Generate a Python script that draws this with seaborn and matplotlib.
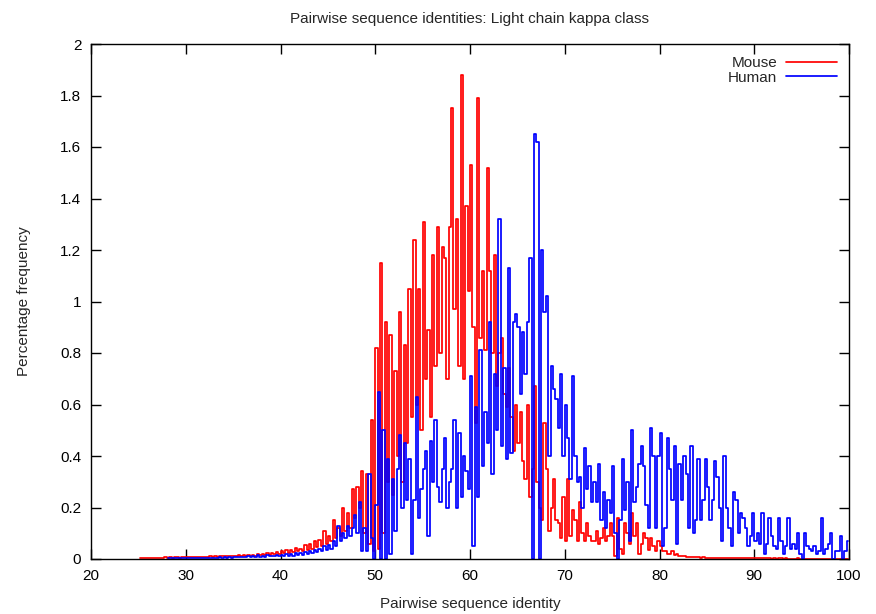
import numpy as np
import pandas as pd
import matplotlib
matplotlib.use("Agg")
import matplotlib.pyplot as plt
from matplotlib.ticker import FuncFormatter
import seaborn as sns

# ---------------- data ----------------
bin_width = 0.25
mouse_start = 25.0
human_start = 28.0

mouse_freq = [
    0.003, 0.004, 0.003, 0.004,  # 25
    0.004, 0.003, 0.005, 0.004,  # 26
    0.005, 0.004, 0.005, 0.006,  # 27
    0.005, 0.006, 0.005, 0.007,  # 28
    0.006, 0.005, 0.007, 0.006,  # 29
    0.007, 0.006, 0.008, 0.007,  # 30
    0.008, 0.007, 0.009, 0.008,  # 31
    0.009, 0.008, 0.010, 0.009,  # 32
    0.010, 0.009, 0.011, 0.010,  # 33
    0.011, 0.010, 0.012, 0.011,  # 34
    0.012, 0.011, 0.014, 0.012,  # 35
    0.014, 0.012, 0.016, 0.013,  # 36
    0.016, 0.013, 0.019, 0.015,  # 37
    0.019, 0.015, 0.022, 0.017,  # 38
    0.024, 0.018, 0.028, 0.020,  # 39
    0.030, 0.022, 0.035, 0.025,  # 40
    0.034, 0.026, 0.042, 0.030,  # 41
    0.040, 0.030, 0.055, 0.034,  # 42
    0.060, 0.038, 0.068, 0.045,  # 43
    0.075, 0.050, 0.110, 0.060,  # 44
    0.090, 0.070, 0.150, 0.080,  # 45
    0.120, 0.090, 0.200, 0.110,  # 46
    0.180, 0.120, 0.270, 0.160,  # 47
    0.280, 0.200, 0.340, 0.100,  # 48
    0.330, 0.060, 0.540, 0.030,  # 49
    0.820, 0.040, 1.150, 0.100,  # 50
    0.920, 0.300, 0.870, 0.250,  # 51
    0.730, 0.400, 0.960, 0.300,  # 52
    0.830, 0.450, 1.050, 0.550,  # 53
    1.240, 0.600, 1.050, 0.500,  # 54
    1.310, 0.700, 0.890, 0.550,  # 55
    1.180, 0.750, 1.290, 0.800,  # 56
    1.210, 1.170, 0.700, 1.290,  # 57
    1.750, 0.970, 1.320, 0.750,  # 58
    1.880, 0.700, 1.370, 1.040,  # 59
    1.530, 0.900, 0.530, 1.790,  # 60
    0.860, 1.120, 0.810, 1.520,  # 61
    1.120, 0.800, 1.180, 0.670,  # 62
    0.800, 0.860, 0.640, 0.590,  # 63
    0.740, 0.550, 0.420, 0.600,  # 64
    0.450, 0.570, 0.380, 0.310,  # 65
    0.600, 0.240, 0.350, 0.670,  # 66
    0.300, 0.200, 0.150, 0.530,  # 67
    0.350, 0.110, 0.200, 0.310,  # 68
    0.150, 0.140, 0.080, 0.240,  # 69
    0.070, 0.310, 0.090, 0.190,  # 70
    0.150, 0.070, 0.220, 0.100,  # 71
    0.070, 0.140, 0.090, 0.070,  # 72
    0.070, 0.110, 0.060, 0.080,  # 73
    0.120, 0.070, 0.090, 0.140,  # 74
    0.090, 0.010, 0.160, 0.040,  # 75
    0.020, 0.140, 0.100, 0.060,  # 76
    0.180, 0.090, 0.140, 0.020,  # 77
    0.060, 0.100, 0.080, 0.035,  # 78
    0.080, 0.050, 0.030, 0.070,  # 79
    0.050, 0.030, 0.030, 0.020,  # 80
    0.020, 0.030, 0.015, 0.020,  # 81
    0.012, 0.010, 0.012, 0.008,  # 82
    0.008, 0.007, 0.008, 0.006,  # 83
    0.006, 0.005, 0.006, 0.005,  # 84
    0.004, 0.005, 0.004, 0.004,  # 85
    0.004, 0.003, 0.004, 0.003,  # 86
    0.003, 0.003, 0.004, 0.003,  # 87
    0.003, 0.002, 0.003, 0.003,  # 88
    0.002, 0.003, 0.002, 0.002,  # 89
    0.002, 0.002, 0.003, 0.002,  # 90
    0.002, 0.002, 0.002, 0.001,  # 91
    0.002, 0.001, 0.002, 0.002,  # 92
    0.001, 0.002, 0.001, 0.001,  # 93
    0.001, 0.001, 0.002, 0.001,  # 94
    0.001, 0.001, 0.001, 0.001,  # 95
    0.001, 0.001, 0.001, 0.000,  # 96
    0.001, 0.000, 0.001, 0.001,  # 97
    0.000, 0.001, 0.000, 0.000,  # 98
    0.001, 0.000, 0.000, 0.000,  # 99
]

human_freq = [
    0.002, 0.003, 0.002, 0.003,  # 28
    0.003, 0.002, 0.004, 0.003,  # 29
    0.003, 0.004, 0.003, 0.004,  # 30
    0.004, 0.003, 0.005, 0.004,  # 31
    0.004, 0.005, 0.004, 0.005,  # 32
    0.005, 0.004, 0.006, 0.005,  # 33
    0.006, 0.005, 0.007, 0.005,  # 34
    0.007, 0.006, 0.008, 0.006,  # 35
    0.008, 0.006, 0.012, 0.007,  # 36
    0.010, 0.008, 0.014, 0.009,  # 37
    0.012, 0.009, 0.015, 0.010,  # 38
    0.013, 0.010, 0.016, 0.012,  # 39
    0.015, 0.011, 0.018, 0.013,  # 40
    0.018, 0.013, 0.022, 0.016,  # 41
    0.022, 0.017, 0.028, 0.020,  # 42
    0.030, 0.022, 0.036, 0.026,  # 43
    0.040, 0.030, 0.050, 0.035,  # 44
    0.055, 0.040, 0.070, 0.050,  # 45
    0.130, 0.070, 0.100, 0.080,  # 46
    0.130, 0.090, 0.120, 0.170,  # 47
    0.100, 0.220, 0.030, 0.120,  # 48
    0.030, 0.330, 0.080, 0.000,  # 49
    0.210, 0.650, 0.000, 0.500,  # 50
    0.000, 0.390, 0.020, 0.310,  # 51
    0.110, 0.350, 0.480, 0.200,  # 52
    0.450, 0.230, 0.390, 0.020,  # 53
    0.230, 0.630, 0.160, 0.270,  # 54
    0.350, 0.420, 0.090, 0.460,  # 55
    0.300, 0.540, 0.280, 0.220,  # 56
    0.350, 0.470, 0.200, 0.300,  # 57
    0.350, 0.540, 0.200, 0.490,  # 58
    0.240, 0.400, 0.340, 0.270,  # 59
    0.710, 0.050, 0.590, 0.240,  # 60
    0.810, 0.360, 0.570, 0.450,  # 61
    0.920, 0.330, 0.720, 0.500,  # 62
    1.320, 0.440, 0.740, 0.390,  # 63
    1.130, 0.410, 0.920, 0.950,  # 64
    0.900, 0.640, 0.880, 0.720,  # 65
    0.920, 1.170, 0.000, 1.650,  # 66
    1.620, 0.000, 1.200, 0.960,  # 67
    1.020, 0.400, 0.750, 0.660,  # 68
    0.620, 0.510, 0.720, 0.400,  # 69
    0.600, 0.470, 0.310, 0.710,  # 70
    0.400, 0.300, 0.320, 0.200,  # 71
    0.430, 0.270, 0.360, 0.220,  # 72
    0.300, 0.220, 0.370, 0.150,  # 73
    0.260, 0.120, 0.230, 0.180,  # 74
    0.360, 0.100, 0.000, 0.150,  # 75
    0.390, 0.190, 0.300, 0.070,  # 76
    0.500, 0.220, 0.280, 0.370,  # 77
    0.440, 0.360, 0.210, 0.120,  # 78
    0.510, 0.400, 0.120, 0.400,  # 79
    0.490, 0.050, 0.120, 0.470,  # 80
    0.350, 0.230, 0.440, 0.060,  # 81
    0.370, 0.230, 0.400, 0.330,  # 82
    0.120, 0.440, 0.100, 0.150,  # 83
    0.390, 0.150, 0.230, 0.390,  # 84
    0.280, 0.150, 0.230, 0.380,  # 85
    0.320, 0.200, 0.070, 0.400,  # 86
    0.200, 0.120, 0.050, 0.260,  # 87
    0.230, 0.100, 0.180, 0.160,  # 88
    0.120, 0.050, 0.090, 0.180,  # 89
    0.070, 0.100, 0.060, 0.180,  # 90
    0.020, 0.060, 0.160, 0.090,  # 91
    0.050, 0.040, 0.160, 0.070,  # 92
    0.020, 0.050, 0.160, 0.040,  # 93
    0.060, 0.040, 0.100, 0.020,  # 94
    0.000, 0.100, 0.050, 0.040,  # 95
    0.030, 0.050, 0.020, 0.030,  # 96
    0.160, 0.020, 0.040, 0.060,  # 97
    0.100, 0.000, 0.030, 0.030,  # 98
    0.090, 0.000, 0.030, 0.070,  # 99
]

series_labels = ["Mouse", "Human"]
series_colors = ["#ff0000", "#0000ff"]
title = "Pairwise sequence identities: Light chain kappa class"
x_label = "Pairwise sequence identity"
y_label = "Percentage frequency"
x_ticks = [20, 30, 40, 50, 60, 70, 80, 90, 100]
y_ticks = [0, 0.2, 0.4, 0.6, 0.8, 1.0, 1.2, 1.4, 1.6, 1.8, 2.0]

# ---------------- plot ----------------
sns.set_theme(style="ticks")
plt.rcParams["font.family"] = ["Liberation Sans", "DejaVu Sans"]

mouse_x = mouse_start + bin_width * (np.arange(len(mouse_freq)) + 0.5)
human_x = human_start + bin_width * (np.arange(len(human_freq)) + 0.5)
df_m = pd.DataFrame({"x": mouse_x, "y": mouse_freq})
df_h = pd.DataFrame({"x": human_x, "y": human_freq})

fig = plt.figure(figsize=(8.76, 6.14), dpi=100)
ax = fig.add_axes([91 / 876, 1 - 559 / 614, (849 - 91) / 876, (559 - 44) / 614])

sns.lineplot(data=df_m, x="x", y="y", ax=ax, color=series_colors[0], lw=1.25,
             drawstyle="steps-mid", estimator=None, label=series_labels[0])
sns.lineplot(data=df_h, x="x", y="y", ax=ax, color=series_colors[1], lw=1.25,
             drawstyle="steps-mid", estimator=None, label=series_labels[1])

ax.set_xlim(20, 100)
ax.set_ylim(0, 2)
ax.set_xticks(x_ticks)
ax.set_yticks(y_ticks)
ax.yaxis.set_major_formatter(FuncFormatter(lambda v, p: f"{v:g}"))
ax.tick_params(direction="in", length=7, width=1, top=True, right=True,
               labelsize=11, colors="black", pad=7)
for s in ax.spines.values():
    s.set_visible(True)
    s.set_linewidth(1.0)
    s.set_color("black")

ax.set_title(title, fontsize=11, pad=15)
ax.set_xlabel(x_label, fontsize=11, labelpad=10)
ax.set_ylabel(y_label, fontsize=11, labelpad=21)

ax.legend(loc="upper right", frameon=False, markerfirst=False, fontsize=11,
          handlelength=3.3, handletextpad=0.6, labelspacing=0.02,
          borderaxespad=0.4)

fig.savefig("out.png", dpi=100)
